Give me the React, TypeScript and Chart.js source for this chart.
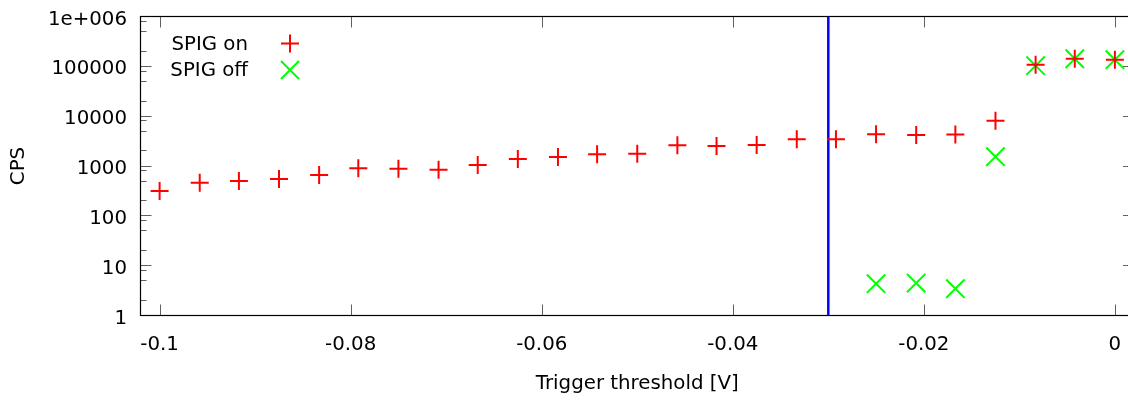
import React, { useEffect, useRef } from "react";
import { Chart, registerables } from "chart.js";

Chart.register(...registerables);

// ---- data ----
const thresholds = [
  -0.1, -0.0958, -0.0917, -0.0875, -0.0833, -0.0792, -0.075, -0.0708, -0.0667,
  -0.0625, -0.0583, -0.0542, -0.05, -0.0458, -0.0417, -0.0375, -0.0333, -0.0292,
  -0.025, -0.0208, -0.0167, -0.0125, -0.0083, -0.0042, 0,
];
const spigOn = [
  314, 461, 499, 547, 659, 898, 883, 842, 1048, 1383, 1517, 1719, 1770, 2608,
  2526, 2648, 3443, 3443, 4345, 4206, 4266, 8050, 108000, 142600, 136000,
];
const spigOff: (number | null)[] = [
  null, null, null, null, null, null, null, null, null, null, null, null, null,
  null, null, null, null, null, 4.35, 4.47, 3.45, 1539, 103000, 142000, 136000,
];
const markerThreshold = -0.03;
const seriesLabels = ["SPIG on", "SPIG off"];
const xTickValues = [-0.1, -0.08, -0.06, -0.04, -0.02, 0];
const xTickLabels = ["-0.1", "-0.08", "-0.06", "-0.04", "-0.02", "0"];
const yTickValues = [1, 10, 100, 1000, 10000, 100000, 1000000];
const yTickLabels = ["1", "10", "100", "1000", "10000", "100000", "1e+006"];
const yMinorMultipliers = [2, 5, 8];

const FONT_FAMILY = "'DejaVu Sans', sans-serif";
const FONT_SIZE = 19.8;
const RED = "#ff0000";
const GREEN = "#00ff00";
const BLUE = "#0000ff";
const TICK_COLOR = "#606060";

const zeroPad = (s: any) => {
  s.paddingTop = 0;
  s.paddingBottom = 0;
  s.paddingLeft = 0;
  s.paddingRight = 0;
};

const framePlugin = {
  id: "frame",
  beforeDatasetsDraw(chart: any) {
    const { ctx, chartArea: a, scales } = chart;
    const xs = scales.x;
    const ys = scales.y;
    const major = 11;
    const minor = 6;
    ctx.save();
    ctx.lineWidth = 1;
    ctx.strokeStyle = TICK_COLOR;
    ctx.beginPath();
    for (const v of xTickValues) {
      const px = Math.round(xs.getPixelForValue(v)) + 0.5;
      ctx.moveTo(px, a.bottom);
      ctx.lineTo(px, a.bottom - major);
      ctx.moveTo(px, a.top);
      ctx.lineTo(px, a.top + major);
    }
    for (const v of yTickValues) {
      const py = Math.round(ys.getPixelForValue(v) - 0.5) + 0.5;
      ctx.moveTo(a.left, py);
      ctx.lineTo(a.left + major, py);
      ctx.moveTo(a.right, py);
      ctx.lineTo(a.right - major, py);
      for (const m of yMinorMultipliers) {
        const mv = v * m;
        if (mv > ys.max) continue;
        const my = Math.round(ys.getPixelForValue(mv) - 0.5) + 0.5;
        ctx.moveTo(a.left, my);
        ctx.lineTo(a.left + minor, my);
        ctx.moveTo(a.right, my);
        ctx.lineTo(a.right - minor, my);
      }
    }
    ctx.stroke();
    ctx.strokeStyle = "#000";
    ctx.lineWidth = 1.2;
    ctx.strokeRect(a.left, a.top, a.right - a.left, a.bottom - a.top);
    ctx.restore();
  },
  afterDatasetsDraw(chart: any) {
    const { ctx } = chart;
    ctx.save();
    ctx.font = `${FONT_SIZE}px ${FONT_FAMILY}`;
    ctx.fillStyle = "#000";
    ctx.textAlign = "right";
    ctx.textBaseline = "middle";
    const rows = [43.5, 70];
    seriesLabels.forEach((lab, i) => {
      const y = rows[i];
      ctx.fillText(lab, 248, y + 1);
      const ds = chart.data.datasets[i];
      ctx.strokeStyle = ds.borderColor;
      ctx.lineWidth = 2;
      ctx.beginPath();
      const cx = 290;
      const h = 9;
      if (ds.pointStyle === "cross") {
        ctx.moveTo(cx - h, y);
        ctx.lineTo(cx + h, y);
        ctx.moveTo(cx, y - h);
        ctx.lineTo(cx, y + h);
      } else {
        ctx.moveTo(cx - h, y - h);
        ctx.lineTo(cx + h, y + h);
        ctx.moveTo(cx + h, y - h);
        ctx.lineTo(cx - h, y + h);
      }
      ctx.stroke();
    });
    ctx.restore();
  },
};

export default function App() {
  const canvasRef = useRef<HTMLCanvasElement | null>(null);

  useEffect(() => {
    const canvas = canvasRef.current;
    if (!canvas) return;
    const font = { family: FONT_FAMILY, size: FONT_SIZE, lineHeight: 1.2 };
    const chart = new Chart(canvas, {
      type: "scatter",
      data: {
        datasets: [
          {
            label: seriesLabels[0],
            data: thresholds.map((x, i) => ({ x, y: spigOn[i] })),
            pointStyle: "cross",
            pointRadius: 9,
            pointHoverRadius: 9,
            borderColor: RED,
            backgroundColor: RED,
            borderWidth: 2,
            pointBorderWidth: 2,
            showLine: false,
          },
          {
            label: seriesLabels[1],
            data: thresholds.map((x, i) => ({ x, y: spigOff[i] })),
            pointStyle: "crossRot",
            pointRadius: 13,
            pointHoverRadius: 13,
            borderColor: GREEN,
            backgroundColor: GREEN,
            borderWidth: 2,
            pointBorderWidth: 2,
            showLine: false,
          },
          {
            label: "threshold",
            data: [
              { x: markerThreshold, y: yTickValues[0] },
              { x: markerThreshold, y: yTickValues[yTickValues.length - 1] },
            ],
            showLine: true,
            borderColor: BLUE,
            backgroundColor: BLUE,
            borderWidth: 2.5,
            pointRadius: 0,
            pointHoverRadius: 0,
          },
        ],
      } as any,
      options: {
        responsive: false,
        animation: false,
        events: [],
        layout: {
          autoPadding: false,
          padding: { top: 16.5, right: 6, left: 0, bottom: 0 },
        },
        plugins: {
          legend: { display: false },
          tooltip: { enabled: false },
        },
        scales: {
          x: {
            type: "linear",
            min: -0.102,
            max: 0.002,
            afterBuildTicks: (s: any) => {
              s.ticks = xTickValues.map((v) => ({ value: v }));
            },
            afterFit: (s: any) => {
              s.height = 84.5;
              zeroPad(s);
            },
            grid: { display: false, drawTicks: false },
            border: { display: false },
            ticks: {
              padding: 17.5,
              font,
              color: "#000",
              maxRotation: 0,
              autoSkip: false,
              callback: (_v: any, i: number) => xTickLabels[i],
            },
            title: {
              display: true,
              text: "Trigger threshold [V]",
              font,
              color: "#000",
              padding: { top: 0, bottom: 4 },
            },
          },
          y: {
            type: "logarithmic",
            min: 1,
            max: 1000000,
            afterBuildTicks: (s: any) => {
              s.ticks = yTickValues.map((v) => ({ value: v }));
            },
            afterFit: (s: any) => {
              s.width = 140.5;
              zeroPad(s);
            },
            grid: { display: false, drawTicks: false },
            border: { display: false },
            ticks: {
              padding: 13.5,
              labelOffset: 3,
              font,
              color: "#000",
              autoSkip: false,
              callback: (_v: any, i: number) => yTickLabels[i],
            },
            title: {
              display: true,
              text: "CPS",
              font,
              color: "#000",
              padding: { top: 7.2, bottom: 0 },
            },
          },
        },
      } as any,
      plugins: [framePlugin],
    });
    return () => chart.destroy();
  }, []);

  return (
    <div
      style={{
        position: "absolute",
        left: 0,
        top: 0,
        width: 1128,
        height: 400,
        overflow: "hidden",
        background: "#fff",
      }}
    >
      <canvas ref={canvasRef} width={1140} height={400} />
    </div>
  );
}
